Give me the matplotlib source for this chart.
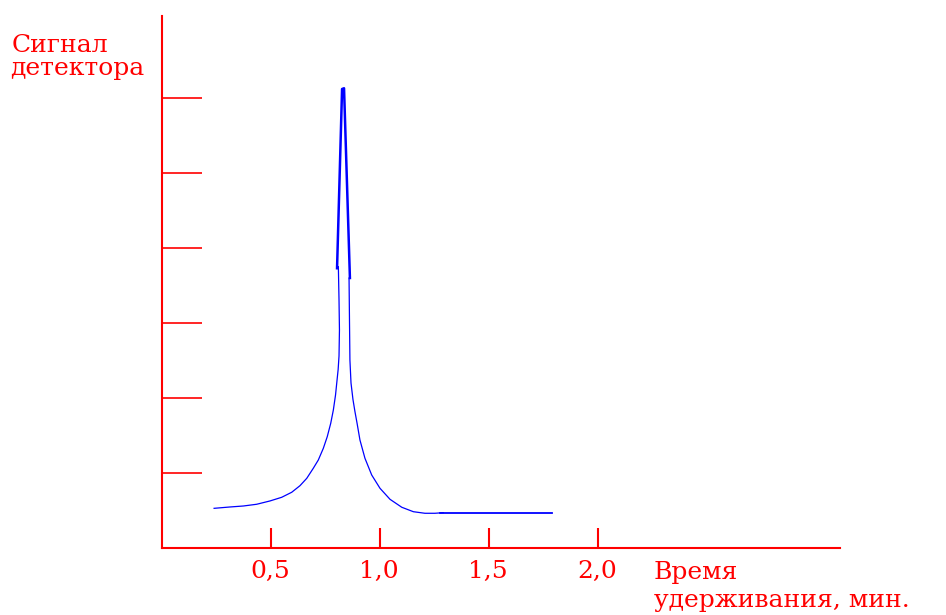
import matplotlib
matplotlib.use("Agg")
import matplotlib.pyplot as plt

# detector trace (time, min ; signal, arbitrary units)
tail_left_t = [0.239, 0.312, 0.373, 0.434, 0.495, 0.549, 0.595, 0.633, 0.664, 0.694, 0.717,
               0.740, 0.758, 0.774, 0.786, 0.796, 0.803, 0.808, 0.812, 0.814, 0.812, 0.809]
tail_left_s = [0.529, 0.547, 0.56, 0.583, 0.627, 0.676, 0.743, 0.831, 0.929, 1.063, 1.173,
               1.329, 1.484, 1.663, 1.84, 2.04, 2.24, 2.38, 2.56, 2.907, 3.307, 3.751]
apex_t = [0.803, 0.826, 0.835, 0.862]
apex_s = [3.73, 6.12, 6.13, 3.6]
tail_right_t = [0.858, 0.860, 0.862, 0.867, 0.876, 0.885, 0.895, 0.908, 0.931, 0.962, 1.0,
                1.046, 1.100, 1.153, 1.206, 1.252, 1.290]
tail_right_s = [3.6, 3.04, 2.507, 2.2, 1.98, 1.82, 1.66, 1.44, 1.196, 0.973, 0.796,
                0.649, 0.543, 0.484, 0.463, 0.463, 0.471]
base_t = [1.275, 1.789]
base_s = [0.467, 0.467]

xticks = [0.5, 1.0, 1.5, 2.0]
xtick_labels = ["0,5", "1,0", "1,5", "2,0"]
yticks = [1, 2, 3, 4, 5, 6]

red = "#ff0000"
blue = "#0000ff"
serif = ["DejaVu Serif"]

fig = plt.figure(figsize=(9.46, 6.15), dpi=100)
ax = fig.add_axes([0, 0, 1, 1])
ax.set_xlim(-162 / 218, 784 / 218)
ax.set_ylim(-67 / 75, 548 / 75)

ax.plot(tail_left_t, tail_left_s, color=blue, lw=0.9)
ax.plot(tail_right_t, tail_right_s, color=blue, lw=0.9)
ax.plot(apex_t, apex_s, color=blue, lw=1.8)
ax.plot(base_t, base_s, color=blue, lw=1.3)

for side in ["top", "right"]:
    ax.spines[side].set_visible(False)
ax.spines["left"].set_position(("data", 0))
ax.spines["bottom"].set_position(("data", 0))
ax.spines["left"].set_bounds(0, 7.1)
ax.spines["bottom"].set_bounds(0, 3.11)
for side in ["left", "bottom"]:
    ax.spines[side].set_color(red)
    ax.spines[side].set_linewidth(1.5)

ax.set_yticks(yticks)
ax.set_yticklabels([])
ax.tick_params(axis="y", direction="in", length=28.8, width=1.2, color=red)
ax.set_xticks(xticks)
ax.set_xticklabels([])
ax.tick_params(axis="x", direction="in", length=14.4, width=1.5, color=red)

for t, lbl in zip(xticks, xtick_labels):
    ax.text(t - 0.005, -0.4, lbl, fontsize=18, family=serif, color=red,
            ha="center", va="baseline")

ax.text(-0.688, 6.613, "Сигнал", fontsize=18, family=serif, color=red,
        ha="left", va="baseline")
ax.text(-0.697, 6.307, "детектора", fontsize=18, family=serif, color=red,
        ha="left", va="baseline")
ax.text(2.257, -0.413, "Время", fontsize=18, family=serif, color=red,
        ha="left", va="baseline")
ax.text(2.257, -0.787, "удерживания, мин.", fontsize=18, family=serif, color=red,
        ha="left", va="baseline")

fig.savefig("out.png", dpi=100)
